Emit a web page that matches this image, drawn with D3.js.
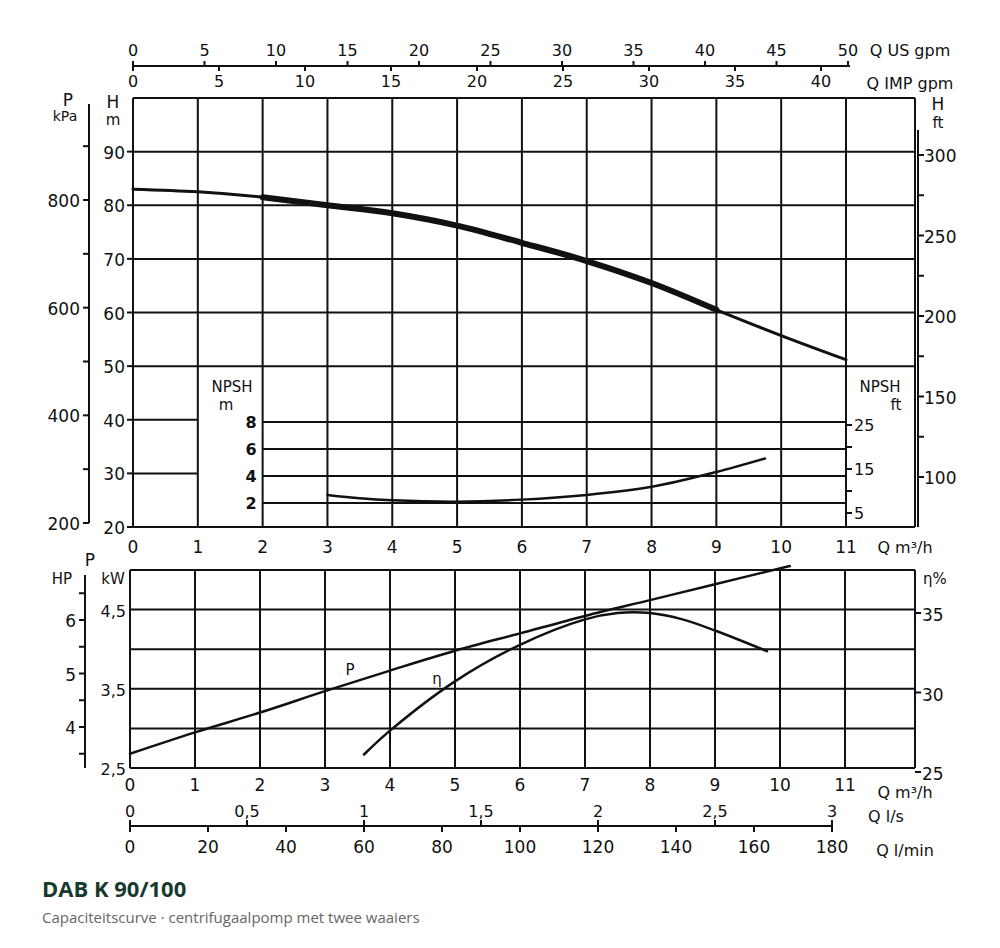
<!DOCTYPE html>
<html>
<head>
<meta charset="utf-8">
<script src="https://cdn.jsdelivr.net/npm/d3@7"></script>
<style>
  body { margin: 0; background: #fff; }
  text { font-family: "DejaVu Sans", sans-serif; fill: #111; }
</style>
</head>
<body>
<svg id="chart" width="1000" height="948"></svg>
<script>
// Q in m3/h used as the common x value
let flowTicks = [0,1,2,3,4,5,6,7,8,9,10,11];
let usGpmTicks = [0,5,10,15,20,25,30,35,40,45,50];
let impGpmTicks = [0,5,10,15,20,25,30,35,40];
let lsTicks = [0,0.5,1,1.5,2,2.5,3];
let lminTicks = [0,20,40,60,80,100,120,140,160,180];

let headTicks = [20,30,40,50,60,70,80,90];
let kpaTicks = [200,400,600,800];
let ftTicks = [100,150,200,250,300];
let npshTicks = [2,4,6,8];
let npshFtTicks = [5,15,25];
let kwTicks = [2.5,3.5,4.5];
let hpTicks = [4,5,6];
let etaTicks = [25,30,35];

// curves
let headQ = [0,1,2,3,4,5,6,7,8,9,10,11];
let headH = [83,82.5,81.5,80,78.5,76.2,73,69.6,65.5,60.5,55.7,51.2];
let npshQ = [3,3.5,4,5,6,7,8,9,9.75];
let npshM = [2.6,2.35,2.2,2.1,2.25,2.6,3.2,4.3,5.3];
let powerQ = [0,1,2,3,4,5,6,7,8,9,10.15];
let powerKw = [2.68,2.95,3.2,3.47,3.73,3.98,4.2,4.42,4.62,4.82,5.05];
let etaQ = [3.6,4,5,6,7,7.5,8,8.5,9,9.8];
let etaPct = [26.1,27.6,30.7,33.0,34.6,35.0,35.0,34.6,33.9,32.6];

let svg = d3.select("#chart");
let x = d3.scaleLinear().domain([0,11]).range([133,846]);
let xb = d3.scaleLinear().domain([0,11]).range([130,845]);
let yH = d3.scaleLinear().domain([20,100]).range([527,98]);
let yKpa = d3.scaleLinear().domain([200,800]).range([523,200]);
let yFt = d3.scaleLinear().domain([100,300]).range([477,155]);
let yN = d3.scaleLinear().domain([0,8]).range([530,422]);
let yNft = d3.scaleLinear().domain([5,25]).range([513,425]);
let yKw = d3.scaleLinear().domain([2.5,5]).range([768,570]);
let yHp = d3.scaleLinear().domain([4,6]).range([727,620]);
let yEta = d3.scaleLinear().domain([25,35]).range([772,613]);
let xUs = d3.scaleLinear().domain([0,50]).range([133,848]);
let xImp = d3.scaleLinear().domain([0,40]).range([133,821]);
let xLs = d3.scaleLinear().domain([0,3]).range([xb(0),xb(10.8)]);
let xLmin = d3.scaleLinear().domain([0,180]).range([xb(0),xb(10.8)]);

let ink = "#111";
function line(g, x1, y1, x2, y2, w) {
  g.append("line").attr("x1",x1).attr("y1",y1).attr("x2",x2).attr("y2",y2)
    .attr("stroke",ink).attr("stroke-width",w || 2);
}
function label(t, px, py, anchor, size, weight) {
  svg.append("text").attr("x",px).attr("y",py).attr("text-anchor",anchor || "middle")
    .attr("font-size",size || 16).attr("font-weight",weight || "normal").text(t);
}

let grid = svg.append("g");

// ---- top panel grid
line(grid, 133, 98, 915, 98);
line(grid, 915, 98, 915, 527);
line(grid, 133, 527, 915, 527);
flowTicks.forEach(function(d) { line(grid, x(d), 98, x(d), 527); });
headTicks.forEach(function(d) {
  if (d >= 50) line(grid, x(0), yH(d), 915, yH(d));
  else if (d > 20) line(grid, x(0), yH(d), x(1), yH(d));
  line(grid, x(0)-6, yH(d), x(0), yH(d));
  label(d, x(0)-8, yH(d)+7, "end", 17);
});
npshTicks.forEach(function(d) {
  line(grid, x(2), yN(d), x(11), yN(d));
  label(d, x(2)-6, yN(d)+6, "end", 16, "bold");
});
// NPSH ft ticks on the 11 line
[5,10,15,20,25].forEach(function(d) { line(grid, x(11), yNft(d), x(11)+6, yNft(d)); });
npshFtTicks.forEach(function(d) { label(d, x(11)+8, yNft(d)+6, "start", 16); });
label("NPSH", 232, 392, "middle", 15);
label("m", 226, 410, "middle", 15);
label("NPSH", 880, 392, "middle", 15);
label("ft", 896, 410, "middle", 15);

// bottom labels of top panel
flowTicks.forEach(function(d) { label(d, x(d), 553, "middle", 17); });
label("Q m³/h", 905, 553, "middle", 16);

// left P kPa axis
line(grid, 89, 104, 89, 523);
[200,300,400,500,600,700,800,900].forEach(function(d) { line(grid, 83, yKpa(d), 89, yKpa(d)); });
kpaTicks.forEach(function(d) { label(d, 80, yKpa(d)+7, "end", 17); });
label("P", 68, 106, "middle", 17);
label("kPa", 65, 121, "middle", 14);
label("H", 113, 108, "middle", 17);
label("m", 113, 125, "middle", 15);

// right ft axis
line(grid, 918, 130, 918, 527);
[100,125,150,175,200,225,250,275,300].forEach(function(d) { line(grid, 918, yFt(d), 924, yFt(d)); });
ftTicks.forEach(function(d) { label(d, 924, yFt(d)+7, "start", 17); });
label("H", 938, 110, "middle", 17);
label("ft", 938, 128, "middle", 15);

// top axes
line(grid, 133, 66, 850, 66);
usGpmTicks.forEach(function(d) {
  line(grid, xUs(d), 61, xUs(d), 66);
  label(d, xUs(d), 56, "middle", 16);
});
impGpmTicks.forEach(function(d) {
  line(grid, xImp(d), 66, xImp(d), 71);
  label(d, xImp(d), 87, "middle", 16);
});
label("Q US gpm", 910, 56, "middle", 16);
label("Q IMP gpm", 910, 89, "middle", 16);

// ---- bottom panel grid
line(grid, xb(0), 570, 915, 570);
line(grid, 915, 570, 915, 768);
flowTicks.forEach(function(d) { line(grid, xb(d), 570, xb(d), 768); });
[2.5,3,3.5,4,4.5].forEach(function(d) { line(grid, xb(0), yKw(d), 915, yKw(d)); });
kwTicks.forEach(function(d) { label(String(d).replace(".",","), xb(0)-4, yKw(d)+7, "end", 16); });
label("kW", 113, 584, "middle", 15);
flowTicks.forEach(function(d) { label(d, xb(d), 791, "middle", 17); });
label("Q m³/h", 905, 798, "middle", 16);

// HP axis
line(grid, 85, 575, 85, 768);
[3.5,4,4.5,5,5.5,6,6.5].forEach(function(d) { line(grid, 79, yHp(d), 85, yHp(d)); });
hpTicks.forEach(function(d) { label(d, 76, yHp(d)+7, "end", 17); });
label("HP", 62, 584, "middle", 15);
label("P", 90, 566, "middle", 17);

// eta axis
etaTicks.forEach(function(d) {
  line(grid, 915, yEta(d), 921, yEta(d));
  label(d, 922, yEta(d)+8, "start", 17);
});
label("η%", 935, 584, "middle", 15);

// l/s and l/min axes
line(grid, xb(0), 826, xb(10.8), 826);
lsTicks.forEach(function(d) {
  line(grid, xLs(d), 820, xLs(d), 826);
  label(String(d).replace(".",","), xLs(d), 817, "middle", 16);
});
lminTicks.forEach(function(d) {
  line(grid, xLmin(d), 826, xLmin(d), 832);
  label(d, xLmin(d), 853, "middle", 17);
});
label("Q l/s", 886, 822, "middle", 16);
label("Q l/min", 905, 856, "middle", 16);

// ---- curves
let curve = d3.line().curve(d3.curveCatmullRom);
function drawCurve(xs, ys, sx, sy, w) {
  let pts = xs.map(function(q, i) { return [sx(q), sy(ys[i])]; });
  svg.append("path").attr("d", curve(pts)).attr("fill","none")
    .attr("stroke",ink).attr("stroke-width",w).attr("stroke-linecap","round");
}
drawCurve(headQ, headH, x, yH, 3);
let thickQ = headQ.filter(function(q) { return q >= 2 && q <= 9.8; });
drawCurve(thickQ, thickQ.map(function(q) { return headH[headQ.indexOf(q)]; }), x, yH, 6);
drawCurve(npshQ, npshM, x, yN, 2.5);
drawCurve(powerQ, powerKw, xb, yKw, 2.5);
drawCurve(etaQ, etaPct, xb, yEta, 2.5);
label("P", 350, 675, "middle", 15);
label("η", 437, 684, "middle", 15);

// ---- title
svg.append("text").attr("x",42).attr("y",897).attr("font-size",22).attr("font-weight","bold")
  .style("fill","#173a2e").style("font-family","'Open Sans', sans-serif").text("DAB K 90/100");
svg.append("text").attr("x",42).attr("y",923).attr("font-size",15)
  .style("fill","#666").style("font-family","'Open Sans', sans-serif")
  .text("Capaciteitscurve  ·  centrifugaalpomp met twee waaiers");
</script>
</body>
</html>
